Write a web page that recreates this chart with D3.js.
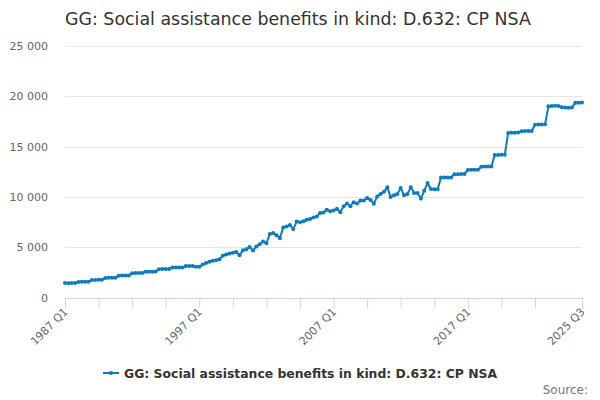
<!DOCTYPE html>
<html>
<head>
<meta charset="utf-8">
<script src="https://cdn.jsdelivr.net/npm/d3@7"></script>
<style>
  body { margin: 0; background: #fff; }
  svg { font-family: "DejaVu Sans", sans-serif; }
</style>
</head>
<body>
<script>
// data
const title = "GG: Social assistance benefits in kind: D.632: CP NSA";
const seriesName = "GG: Social assistance benefits in kind: D.632: CP NSA";
const startYear = 1987;
const xTickLabels = ["1987 Q1", "1997 Q1", "2007 Q1", "2017 Q1", "2025 Q3"];
const yTicks = [0, 5000, 10000, 15000, 20000, 25000];

// quarterly values, 1987 Q1 .. 2025 Q3
const values = [
  1430, 1420, 1430, 1440,   // 1987
  1550, 1560, 1560, 1570,   // 1988
  1740, 1750, 1760, 1760,   // 1989
  1950, 1960, 1960, 1970,   // 1990
  2170, 2180, 2190, 2190,   // 1991
  2420, 2430, 2430, 2440,   // 1992
  2560, 2570, 2570, 2580,   // 1993
  2820, 2830, 2830, 2840,   // 1994
  2970, 2980, 2980, 2990,   // 1995
  3120, 3130, 3140, 3060,   // 1996
  3050, 3270, 3430, 3560,   // 1997
  3650, 3700, 3800, 4150,   // 1998
  4270, 4370, 4450, 4530,   // 1999
  4200, 4700, 4800, 5030,   // 2000
  4680, 5060, 5300, 5560,   // 2001
  5400, 6300, 6400, 6200,   // 2002
  5900, 6950, 7050, 7200,   // 2003
  6800, 7550, 7480, 7580,   // 2004
  7730, 7800, 7960, 8060,   // 2005
  8400, 8460, 8720, 8580,   // 2006
  8650, 8820, 8480, 9060,   // 2007
  9350, 9080, 9480, 9350,   // 2008
  9630, 9650, 9900, 9700,   // 2009
  9320, 10050, 10300, 10500, // 2010
  10950, 9980, 10170, 10300, // 2011
  10880, 10170, 10300, 10950, // 2012
  10400, 10380, 9830, 10600, // 2013
  11380, 10780, 10750, 10760, // 2014
  11930, 11920, 11930, 11940, // 2015
  12250, 12260, 12270, 12280, // 2016
  12680, 12690, 12690, 12700, // 2017
  13000, 13010, 13020, 13030, // 2018
  14160, 14170, 14180, 14190, // 2019
  16350, 16370, 16380, 16390, // 2020
  16520, 16540, 16540, 16550, // 2021
  17180, 17190, 17200, 17210, // 2022
  19020, 19040, 19050, 19040, // 2023
  18900, 18880, 18870, 18880, // 2024
  19350, 19370, 19380         // 2025
];

const periods = values.map((v, i) => `${startYear + Math.floor(i / 4)} Q${i % 4 + 1}`);
const data = periods.map((p, i) => ({ period: p, value: values[i] }));

// constants
const width = 600;
const height = 400;
const margin = { left: 65, right: 18, top: 46, bottom: 103 };
const color = "#0c7bc0";

const svg = d3.select("body").append("svg")
  .attr("width", width)
  .attr("height", height);

const x = d3.scalePoint()
  .domain(periods)
  .range([margin.left, width - margin.right]);

const y = d3.scaleLinear()
  .domain([0, 25000])
  .range([height - margin.bottom + 0.5, margin.top]);

// title
svg.append("text")
  .attr("x", 65)
  .attr("y", 25)
  .style("font-size", "17.4px")
  .style("fill", "#333")
  .text(title);

// grid lines
svg.append("g")
  .selectAll("line")
  .data(yTicks.filter(d => d > 0))
  .join("line")
  .attr("x1", margin.left)
  .attr("x2", width - margin.right)
  .attr("y1", d => Math.round(y(d)) + 0.5)
  .attr("y2", d => Math.round(y(d)) + 0.5)
  .style("stroke", "#e6e6e6");

// y labels
const fmt = d => d3.format(",")(d).replace(/,/g, " ");
svg.append("g")
  .selectAll("text")
  .data(yTicks)
  .join("text")
  .attr("x", 48)
  .attr("y", d => y(d) + 4)
  .attr("text-anchor", "end")
  .style("font-size", "11px")
  .style("fill", "#666")
  .text(fmt);

// x axis
const tickIdx = d3.range(0, 150, 10).concat([periods.length - 1]);
const xAxis = svg.append("g")
  .attr("transform", `translate(0,${Math.round(y(0)) + 0.5})`)
  .call(d3.axisBottom(x)
    .tickValues(tickIdx.map(i => periods[i]))
    .tickSize(10)
    .tickFormat(d => xTickLabels.includes(d) ? d : ""));
xAxis.select(".domain").style("stroke", "#ccd6eb").attr("d", `M${margin.left},0H${width - margin.right + 2}`);
xAxis.selectAll(".tick line").style("stroke", "#ccd6eb");
xAxis.selectAll(".tick text")
  .attr("transform", "translate(3,14) rotate(-45)")
  .attr("text-anchor", "end")
  .attr("dy", 0)
  .attr("y", 0)
  .style("font-size", "11px")
  .style("font-family", "DejaVu Sans, sans-serif")
  .style("fill", "#666");

// line
const line = d3.line()
  .x(d => x(d.period))
  .y(d => y(d.value));

svg.append("path")
  .datum(data)
  .attr("d", line)
  .style("fill", "none")
  .style("stroke", color)
  .style("stroke-width", 2);

svg.append("g")
  .selectAll("circle")
  .data(data)
  .join("circle")
  .attr("cx", d => x(d.period))
  .attr("cy", d => y(d.value))
  .attr("r", 2)
  .style("fill", color);

// legend
const legend = svg.append("g").attr("transform", "translate(103,373)");
legend.append("line")
  .attr("x1", 0).attr("x2", 16)
  .style("stroke", color)
  .style("stroke-width", 2);
legend.append("circle")
  .attr("cx", 8)
  .attr("r", 2)
  .style("fill", color);
legend.append("text")
  .attr("x", 21)
  .attr("y", 5)
  .style("font-size", "12.4px")
  .style("font-weight", "bold")
  .style("fill", "#333")
  .text(seriesName);

// credits
svg.append("text")
  .attr("x", 588)
  .attr("y", 394)
  .attr("text-anchor", "end")
  .style("font-size", "12px")
  .style("fill", "#777")
  .text("Source:");
</script>
</body>
</html>
